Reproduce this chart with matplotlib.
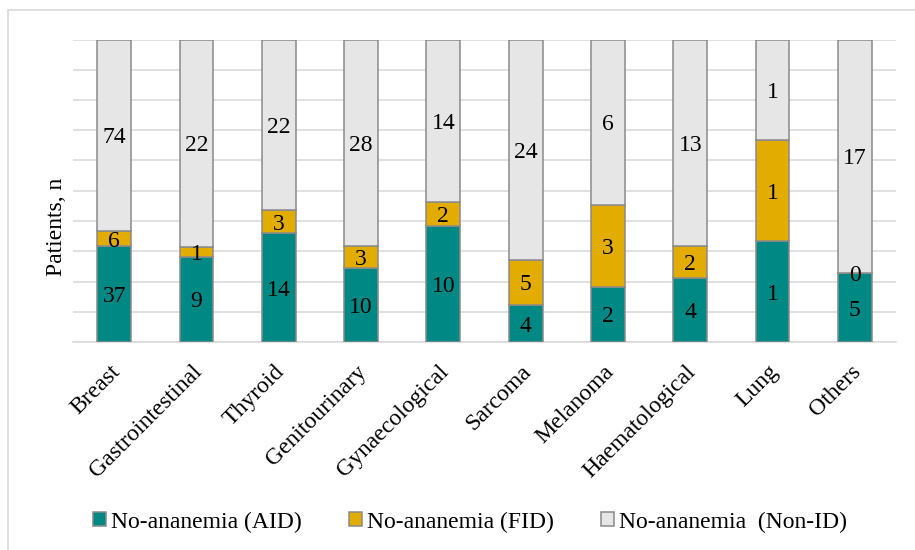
import matplotlib
matplotlib.use("Agg")
import matplotlib.pyplot as plt
from matplotlib.patches import Rectangle, Patch
from matplotlib.transforms import ScaledTranslation
import numpy as np

plt.rcParams['font.family'] = ['Liberation Serif', 'DejaVu Serif']

categories = ["Breast", "Gastrointestinal", "Thyroid", "Genitourinary",
              "Gynaecological", "Sarcoma", "Melanoma", "Haematological",
              "Lung", "Others"]
aid = [37, 9, 14, 10, 10, 4, 2, 4, 1, 5]
fid = [6, 1, 3, 3, 2, 5, 3, 2, 1, 0]
non_id = [74, 22, 22, 28, 14, 24, 6, 13, 1, 17]
series_names = ["No-ananemia (AID)", "No-ananemia (FID)", "No-ananemia  (Non-ID)"]
colors = ["#008984", "#E2AC00", "#E6E6E6"]
FS = 17

fig = plt.figure(figsize=(9.15, 5.5), dpi=100)

# outer chart frame
fig.patches.append(Rectangle((8 / 915, -0.1), 1.2, 1 - 10.5 / 550 + 0.1,
                             transform=fig.transFigure, fill=False,
                             edgecolor="#D9D9D9", linewidth=1.2))

ax = fig.add_axes([73 / 915, 1 - 342 / 550, (896 - 73) / 915, (342 - 39.5) / 550])

data = np.array([aid, fid, non_id], dtype=float)
totals = data.sum(axis=0)
shares = data / totals

x = np.arange(len(categories))
bottom = np.zeros(len(categories))
for i in range(3):
    ax.bar(x, shares[i], bottom=bottom, width=0.41, color=colors[i],
           edgecolor="#8A8A8A", linewidth=1.1, zorder=3)
    for j in range(len(categories)):
        ax.text(x[j], bottom[j] + shares[i][j] / 2, f"{int(data[i][j])}",
                ha="center", va="center_baseline", fontsize=FS, color="black",
                zorder=4)
    bottom += shares[i]

ax.set_xlim(-0.5, len(categories) - 0.5)
ax.set_ylim(0, 1)
ax.set_yticks(np.linspace(0, 1, 11))
ax.yaxis.grid(True, color="#D9D9D9", linewidth=1.1, zorder=0)
ax.set_axisbelow(True)
ax.tick_params(axis="y", left=False, labelleft=False)
ax.tick_params(axis="x", length=0, pad=8)
for s in ["top", "right", "left"]:
    ax.spines[s].set_visible(False)
ax.spines["bottom"].set_color("#D9D9D9")
ax.spines["bottom"].set_linewidth(1.1)

ax.set_xticks(x)
ax.set_xticklabels(categories, rotation=45, ha="right", rotation_mode="anchor",
                   fontsize=FS)
shift = ScaledTranslation(-5 / 100, -8 / 100, fig.dpi_scale_trans)
for lbl in ax.get_xticklabels():
    lbl.set_transform(lbl.get_transform() + shift)

fig.text(56 / 915, 1 - 227 / 550, "Patients, n", rotation=90, ha="center",
         va="center", fontsize=FS)

handles = [Patch(facecolor=c, edgecolor="#8A8A8A", linewidth=1.1) for c in colors]
fig.legend(handles, series_names, loc="center", bbox_to_anchor=(470 / 915, 1 - 522 / 550),
           ncol=3, frameon=False, fontsize=FS, handlelength=0.55, handleheight=0.55,
           handletextpad=0.2, columnspacing=2.0)

fig.savefig("out.png", dpi=100)
